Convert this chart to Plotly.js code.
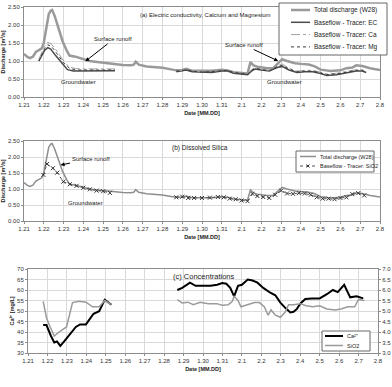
<!DOCTYPE html>
<html><head><meta charset="utf-8">
<script src="https://cdn.plot.ly/plotly-3.0.1.min.js"></script>
<style>html,body{margin:0;padding:0;background:#fff}#chart{width:392px;height:387px}</style>
</head><body><div id="chart"></div>
<script>
// ---- data (x = days after Jan 21) ----
const dayTicks = [0,1,2,3,4,5,6,7,8,9,10,11,12,13,14,15,16,17,18];
const tickLabels = ["1.21","1.22","1.23","1.24","1.25","1.26","1.27","1.28","1.29","1.30","1.31","2.1","2.2","2.3","2.4","2.5","2.6","2.7","2.8"];

const totalX = [0,0.15,0.3,0.45,0.6,0.75,0.9,1.0,1.05,1.15,1.25,1.35,1.42,1.55,1.75,1.95,2.15,2.3,2.6,3.0,3.3,3.6,4.0,4.5,5.0,5.4,5.55,5.65,5.8,6.2,7.0,7.5,7.7,8.0,8.2,8.5,9.0,9.5,10.0,10.3,10.6,11.0,11.3,11.45,11.6,11.8,12.0,12.3,12.6,12.9,13.05,13.3,13.7,14.0,14.4,14.7,15.0,15.5,16.0,16.3,16.6,16.8,17.1,17.5,18.0];
const totalQ = [1.20,1.12,1.08,1.12,1.25,1.30,1.35,1.50,1.65,1.90,2.30,2.40,2.42,2.25,1.90,1.55,1.30,1.15,1.12,1.05,1.00,0.98,0.95,0.91,0.89,0.88,0.90,0.98,0.90,0.85,0.81,0.76,0.74,0.75,0.78,0.73,0.72,0.73,0.76,0.74,0.69,0.67,0.65,0.97,0.88,0.84,0.82,0.80,0.80,0.95,1.05,1.00,0.94,0.92,0.90,0.85,0.76,0.72,0.74,0.80,0.82,0.88,0.86,0.80,0.75];

const ecX = [0.75,0.9,1.05,1.2,1.35,1.6,1.9,2.2,2.5,3.0,4.0,4.6,null,7.7,8.0,8.2,8.5,9.0,9.5,10.0,10.3,10.6,11.0,11.3,11.5,11.7,12.0,12.4,12.8,13.05,13.4,13.8,14.2,14.6,15.0,15.3,15.8,16.3,16.8,17.1,17.3];
const ecQ = [1.00,1.15,1.30,1.37,1.33,1.15,0.95,0.76,0.72,0.72,0.72,0.73,null,0.70,0.72,0.75,0.70,0.68,0.68,0.72,0.72,0.66,0.64,0.62,0.72,0.78,0.75,0.72,0.82,0.85,0.75,0.68,0.70,0.70,0.65,0.60,0.62,0.68,0.72,0.72,0.68];

const caX = [0.75,1.05,1.2,1.4,1.7,2.0,2.3,2.6,3.0,4.0,4.6,null,7.7,8.0,8.2,8.5,9.0,9.5,10.0,10.3,10.6,11.0,11.3,11.5,11.7,12.0,12.4,12.8,13.05,13.4,13.8,14.2,14.6,15.0,15.3,15.8,16.3,16.8,17.1,17.3];
const caQ = [1.05,1.42,1.52,1.46,1.25,1.00,0.83,0.79,0.78,0.78,0.78,null,0.73,0.74,0.77,0.73,0.70,0.71,0.74,0.75,0.69,0.67,0.64,0.76,0.82,0.78,0.74,0.86,0.92,0.80,0.72,0.74,0.74,0.69,0.64,0.66,0.71,0.76,0.76,0.71];
const mgQ = [1.00,1.35,1.45,1.40,1.18,0.95,0.80,0.75,0.75,0.75,0.75,null,0.72,0.73,0.76,0.72,0.69,0.70,0.73,0.74,0.68,0.66,0.63,0.74,0.80,0.76,0.73,0.84,0.88,0.78,0.70,0.72,0.72,0.67,0.62,0.64,0.70,0.74,0.74,0.70];

const siX = [0.98,1.16,1.46,1.68,1.99,2.32,2.66,3.0,3.33,3.67,4.0,4.34,null,7.7,8.0,8.3,8.6,9.0,9.4,9.8,10.1,10.4,10.7,11.0,11.3,11.55,11.8,12.1,12.4,12.7,13.0,13.3,13.6,13.9,14.2,14.5,14.8,15.1,15.4,15.7,16.0,16.3,16.6,16.9,17.2];
const siQ = [1.44,1.78,1.65,1.51,1.23,1.15,1.10,1.04,0.99,0.95,0.93,0.88,null,0.74,0.76,0.72,0.72,0.72,0.73,0.75,0.74,0.70,0.68,0.64,0.62,0.85,0.78,0.75,0.72,0.82,0.95,0.86,0.85,0.87,0.86,0.82,0.74,0.70,0.70,0.68,0.72,0.74,0.84,0.87,0.80];

const caConcX = [0.78,0.95,1.18,1.35,1.49,1.66,1.86,2.2,2.46,2.68,2.98,3.37,3.66,3.95,4.29,null,7.68,7.93,8.33,8.62,8.96,9.39,9.73,9.99,10.2,10.4,10.6,10.8,11.0,11.3,11.55,11.8,12.1,12.46,12.72,12.98,13.23,13.49,13.66,13.83,14.0,14.26,14.6,15.0,15.37,15.68,15.93,16.26,16.57,16.9,17.24];
const caConc = [43.3,43.3,38.1,35.0,35.5,33.4,35.5,39.7,42.4,43.6,43.6,48.7,49.9,55.4,53.0,null,60,61,63.5,62,62,62,62.5,63.3,63,61,57,62,62.5,65,64.5,63.5,61,58.7,57.5,54,51.5,49.3,49.6,51,53.5,55.7,56,56,58,60,59,62.5,56.5,57,56];

const siConcX = [0.78,0.95,1.14,1.35,1.6,1.78,1.98,2.29,2.63,2.98,3.32,3.66,3.95,4.29,null,7.68,7.93,8.22,8.5,8.85,9.27,9.7,10.0,10.3,10.5,10.6,10.8,10.95,11.3,11.65,11.9,12.15,12.35,12.5,12.72,12.98,13.23,13.4,13.66,14.0,14.3,14.65,15.0,15.37,15.8,16.1,16.45,16.8,17.0,17.3];
const siConc = [5.46,4.68,4.24,3.81,4.0,4.1,4.24,5.4,5.46,5.42,5.2,5.2,5.5,5.3,null,5.54,5.38,5.42,5.3,5.42,5.35,5.35,5.27,5.3,5.45,5.7,5.5,5.2,5.3,5.4,5.4,5.2,4.8,5.05,4.8,4.7,4.95,5.3,5.3,5.35,5.25,5.2,5.25,5.1,5.05,5.1,5.2,5.2,5.55,5.5];

const qTicks = [0,0.5,1,1.5,2,2.5];
const qLabels = ["0.00","0.50","1.00","1.50","2.00","2.50"];
const caTicks = [30,35,40,45,50,55,60,65,70];
const siTicks = [3.0,3.5,4.0,4.5,5.0,5.5,6.0,6.5,7.0];

// ---- styling / layout helpers ----
const W = 392, H = 387;
const px = x => x / W, py = y => 1 - y / H;
const FONT = 'Liberation Sans, Arial, sans-serif';
const C_TOTAL = '#9a9a9a', C_EC = '#4a4a4a', C_CA = '#a0a0a0', C_MG = '#3a3a3a';
const TITLE_FONT = {family:FONT, size:5.5, color:'#222', weight:'bold'};

function xAx(l, r, anchor) {
  return {domain:[px(l), px(r)], range:[0,18], anchor:anchor, tickmode:'array', tickvals:dayTicks, ticktext:tickLabels,
    showgrid:true, gridcolor:'#dadada', gridwidth:1, zeroline:false, showline:true, linecolor:'#8c8c8c', linewidth:1, mirror:true,
    ticks:'outside', ticklen:2, tickcolor:'#8c8c8c', tickfont:{family:FONT, size:6, color:'#333'}, fixedrange:true,
    title:{text:'Date [MM.DD]', font:TITLE_FONT, standoff:3}};
}
function yAx(top, bot, anchor, range, tv, tt, title) {
  const a = {domain:[py(bot), py(top)], range:range, anchor:anchor, tickmode:'array', tickvals:tv, ticktext:tt,
    showgrid:true, gridcolor:'#dadada', gridwidth:1, zeroline:false, showline:true, linecolor:'#8c8c8c', linewidth:1, mirror:true,
    ticks:'outside', ticklen:2, tickcolor:'#8c8c8c', tickfont:{family:FONT, size:6, color:'#333'}, fixedrange:true};
  if (title) a.title = {text:title, font:TITLE_FONT, standoff:2};
  return a;
}

const traces = [
  {x:totalX, y:totalQ, xaxis:'x', yaxis:'y', mode:'lines', line:{color:C_TOTAL, width:2.5}, name:'Total discharge (W28)'},
  {x:ecX, y:ecQ, xaxis:'x', yaxis:'y', mode:'lines', line:{color:C_EC, width:1.5}, name:'Baseflow - Tracer: EC'},
  {x:caX, y:caQ, xaxis:'x', yaxis:'y', mode:'lines', line:{color:C_CA, width:1, dash:'dashdot'}, name:'Baseflow - Tracer: Ca'},
  {x:caX, y:mgQ, xaxis:'x', yaxis:'y', mode:'lines', line:{color:C_MG, width:1, dash:'dot'}, name:'Baseflow - Tracer: Mg'},
  {x:totalX, y:totalQ, xaxis:'x2', yaxis:'y2', mode:'lines', line:{color:'#8e8e8e', width:1.5}, name:'Total discharge (W28)'},
  {x:siX, y:siQ, xaxis:'x2', yaxis:'y2', mode:'lines+markers', line:{color:'#555', width:1, dash:'dot'},
   marker:{symbol:'x-thin-open', size:4, color:'#333', line:{width:1, color:'#333'}}, name:'Baseflow - Tracer: SiO2'},
  {x:caConcX, y:caConc, xaxis:'x3', yaxis:'y3', mode:'lines', line:{color:'#000', width:2}, name:'Ca2+'},
  {x:siConcX, y:siConc, xaxis:'x3', yaxis:'y4', mode:'lines', line:{color:'#9a9a9a', width:1.5}, name:'SiO2'}
];

function txt(x, y, text, size, opts) {
  return Object.assign({xref:'paper', yref:'paper', x:px(x), y:py(y), text:text, showarrow:false,
    font:{family:FONT, size:size, color:'#222'}, xanchor:'center', yanchor:'middle'}, opts || {});
}

const annotations = [
  txt(205, 15, '(a) Electric conductivity, Calcium and Magnesium', 6),
  txt(200, 148, '(b) Dissolved Silica', 6.5),
  txt(204, 276, '(c) Concentrations', 7.5),
  txt(78, 82, 'Groundwater', 6),
  txt(284, 82, 'Groundwater', 6),
  txt(85, 203, 'Groundwater', 6),
  {xref:'x', yref:'y', x:3.1, y:0.99, text:'Surface runoff', showarrow:true, arrowhead:2, arrowsize:0.8, arrowwidth:1, arrowcolor:'#000',
   ax:28, ay:-22, font:{family:FONT, size:6, color:'#222'}},
  {xref:'x', yref:'y', x:12.85, y:1.0, text:'Surface runoff', showarrow:true, arrowhead:2, arrowsize:0.8, arrowwidth:1, arrowcolor:'#000',
   ax:-34, ay:-16, font:{family:FONT, size:6, color:'#222'}},
  {xref:'x2', yref:'y2', x:1.85, y:1.75, text:'Surface runoff', showarrow:true, arrowhead:2, arrowsize:0.8, arrowwidth:1, arrowcolor:'#000',
   ax:30, ay:-6, font:{family:FONT, size:6, color:'#222'}}
];

const shapes = [];
function legendBox(l, t, r, b) {
  shapes.push({type:'rect', xref:'paper', yref:'paper', x0:px(l), x1:px(r), y0:py(b), y1:py(t), line:{color:'#666', width:1}, fillcolor:'#fff', layer:'above'});
}
function legendLine(x0, x1, y0, line, y1) {
  shapes.push({type:'line', xref:'paper', yref:'paper', x0:px(x0), x1:px(x1), y0:py(y0), y1:py(y1 === undefined ? y0 : y1), line:line, layer:'above'});
}
// legend (a)
legendBox(279, 3, 387, 55);
const legA = [['Total discharge (W28)', {color:C_TOTAL, width:2.5}],
              ['Baseflow - Tracer: EC', {color:C_EC, width:1.5}],
              ['Baseflow - Tracer: Ca', {color:C_CA, width:1, dash:'dashdot'}],
              ['Baseflow - Tracer: Mg', {color:C_MG, width:1, dash:'dot'}]];
legA.forEach((e, i) => {
  const y = 10 + i * 12.3;
  legendLine(291, 310, y, e[1]);
  annotations.push(txt(312, y, e[0], 6.5, {xanchor:'left'}));
});
// legend (b)
legendBox(296, 151, 374, 172);
legendLine(300, 316, 156.5, {color:'#8e8e8e', width:1.5});
annotations.push(txt(318, 156.5, 'Total discharge (W28)', 5.5, {xanchor:'left'}));
legendLine(300, 316, 166, {color:'#555', width:1, dash:'dot'});
legendLine(306.5, 309.5, 164.5, {color:'#333', width:1}, 167.5);
legendLine(306.5, 309.5, 167.5, {color:'#333', width:1}, 164.5);
annotations.push(txt(318, 166, 'Baseflow - Tracer: SiO2', 5.5, {xanchor:'left'}));
// legend (c)
legendBox(322, 331, 370, 351);
legendLine(325, 343, 336, {color:'#000', width:2});
annotations.push(txt(345, 336, 'Ca²⁺', 5.5, {xanchor:'left'}));
legendLine(325, 343, 345.5, {color:'#9a9a9a', width:1.5});
annotations.push(txt(345, 345.5, 'SiO2', 5.5, {xanchor:'left'}));

const layout = {
  width:W, height:H, margin:{l:0, r:0, t:0, b:0}, paper_bgcolor:'#fff', plot_bgcolor:'#fff', showlegend:false,
  font:{family:FONT, size:6, color:'#333'},
  xaxis: xAx(24, 380, 'y'),
  yaxis: yAx(7, 97, 'x', [0,2.5], qTicks, qLabels, 'Discharge [m³/s]'),
  xaxis2: xAx(24, 380, 'y2'),
  yaxis2: yAx(141, 221, 'x2', [0,2.5], qTicks, qLabels, 'Discharge [m³/s]'),
  xaxis3: xAx(28, 378, 'y3'),
  yaxis3: yAx(269, 353, 'x3', [30,70], caTicks, caTicks.map(String), 'Ca²⁺ [mg/L]'),
  yaxis4: Object.assign(yAx(269, 353, 'x3', [3,7], siTicks, siTicks.map(v => v.toFixed(1))), {overlaying:'y3', side:'right', showgrid:false, mirror:false}),
  annotations: annotations,
  shapes: shapes
};

Plotly.newPlot('chart', traces, layout, {staticPlot:true, displayModeBar:false});
</script>
</body></html>
